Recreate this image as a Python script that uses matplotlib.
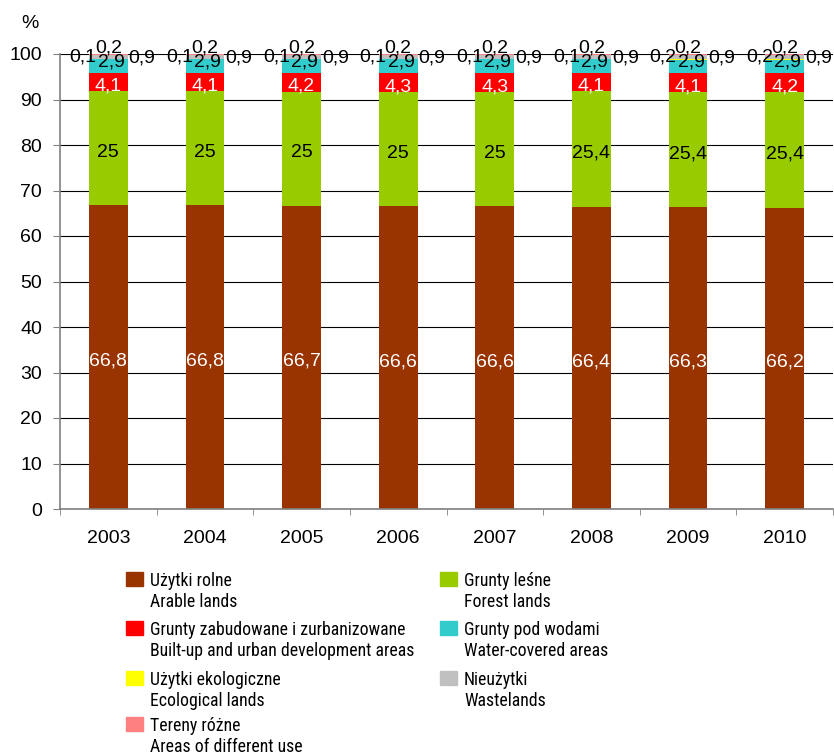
import numpy as np
import matplotlib.pyplot as plt
from matplotlib.patches import Rectangle

plt.rcParams['font.family'] = ['Liberation Sans', 'DejaVu Sans']

years = ['2003', '2004', '2005', '2006', '2007', '2008', '2009', '2010']
arable = [66.8, 66.8, 66.7, 66.6, 66.6, 66.4, 66.3, 66.2]
forest = [25, 25, 25, 25, 25, 25.4, 25.4, 25.4]
builtup = [4.1, 4.1, 4.2, 4.3, 4.3, 4.1, 4.1, 4.2]
water = [2.9, 2.9, 2.9, 2.9, 2.9, 2.9, 2.9, 2.9]
ecological = [0.1, 0.1, 0.1, 0.1, 0.1, 0.1, 0.2, 0.2]
wasteland = [0.9, 0.9, 0.9, 0.9, 0.9, 0.9, 0.9, 0.9]
different = [0.2, 0.2, 0.2, 0.2, 0.2, 0.2, 0.2, 0.2]

series = [arable, forest, builtup, water, ecological, wasteland, different]
colors = ['#993300', '#99CC00', '#FF0000', '#33CCCC', '#FFFF00', '#C0C0C0', '#FF8080']
names_pl = ['Użytki rolne', 'Grunty leśne', 'Grunty zabudowane i zurbanizowane',
            'Grunty pod wodami', 'Użytki ekologiczne', 'Nieużytki', 'Tereny różne']
names_en = ['Arable lands', 'Forest lands', 'Built-up and urban development areas',
            'Water-covered areas', 'Ecological lands', 'Wastelands', 'Areas of different use']

# label placement per series: (x offset, y offset, colour), Excel-like
lab_dx = [0, 0, 0, 0.03, -0.26, 0.35, 0]
lab_dy = [-0.9, -0.9, -0.9, 0.9, 0.55, -0.15, 1.4]
lab_col = ['white', 'black', 'white', 'black', 'black', 'black', 'black']

W, H = 834, 756
fig = plt.figure(figsize=(W / 100, H / 100), dpi=100)
ax = fig.add_axes([60 / W, 1 - 509 / H, 773 / W, 455 / H])

x = np.arange(len(years))
fs = 14
bottom = np.zeros(len(years))
for i, (vals, col) in enumerate(zip(series, colors)):
    vals = np.array(vals, dtype=float)
    ax.bar(x, vals, 0.4, bottom=bottom, color=col, zorder=3)
    mid = bottom + vals / 2
    for j in range(len(years)):
        lab = f'{vals[j]:g}'.replace('.', ',')
        ax.text(x[j] + lab_dx[i], mid[j] + lab_dy[i], lab, color=lab_col[i],
                ha='center', va='center', fontsize=fs, zorder=4 + i)
    bottom = bottom + vals

ax.set_xlim(-0.5, len(years) - 0.5)
ax.set_ylim(0, 100)
ax.set_yticks(np.arange(0, 101, 10))
ax.set_xticks(x)
ax.set_xticklabels(years)
ax.set_xticks(np.arange(-0.5, len(years), 1), minor=True)
ax.tick_params(axis='x', which='major', length=0, pad=15, labelsize=fs)
ax.tick_params(axis='x', which='minor', length=4, color='#808080', direction='out')
ax.tick_params(axis='y', length=5, color='#808080', pad=8, labelsize=fs)
ax.yaxis.grid(True, color='black', linewidth=0.8, zorder=0)
ax.set_axisbelow(True)
for s in ['top', 'right']:
    ax.spines[s].set_visible(False)
for s in ['left', 'bottom']:
    ax.spines[s].set_color('#808080')
    ax.spines[s].set_linewidth(1.2)
    ax.spines[s].set_zorder(5)

fig.text(30 / W, 1 - 23 / H, '%', fontsize=fs, ha='center', va='center')

# legend, two columns
leg_font = ['Roboto Condensed', 'Liberation Sans', 'DejaVu Sans']
order = [0, 2, 4, 6, 1, 3, 5]
col_x = [126, 440]
row_top = [572, 621, 671, 717]
for k, idx in enumerate(order):
    c, r = divmod(k, 4)
    px, py = col_x[c], row_top[r]
    fig.patches.append(Rectangle((px / W, 1 - (py + 14) / H), 17 / W, 14 / H,
                                 transform=fig.transFigure, color=colors[idx]))
    fig.text((px + 24) / W, 1 - (py + 9) / H, names_pl[idx], fontsize=12.8, family=leg_font, va='center')
    fig.text((px + 24) / W, 1 - (py + 30) / H, names_en[idx], fontsize=12.8, family=leg_font, va='center')

fig.savefig('out.png', dpi=100)
